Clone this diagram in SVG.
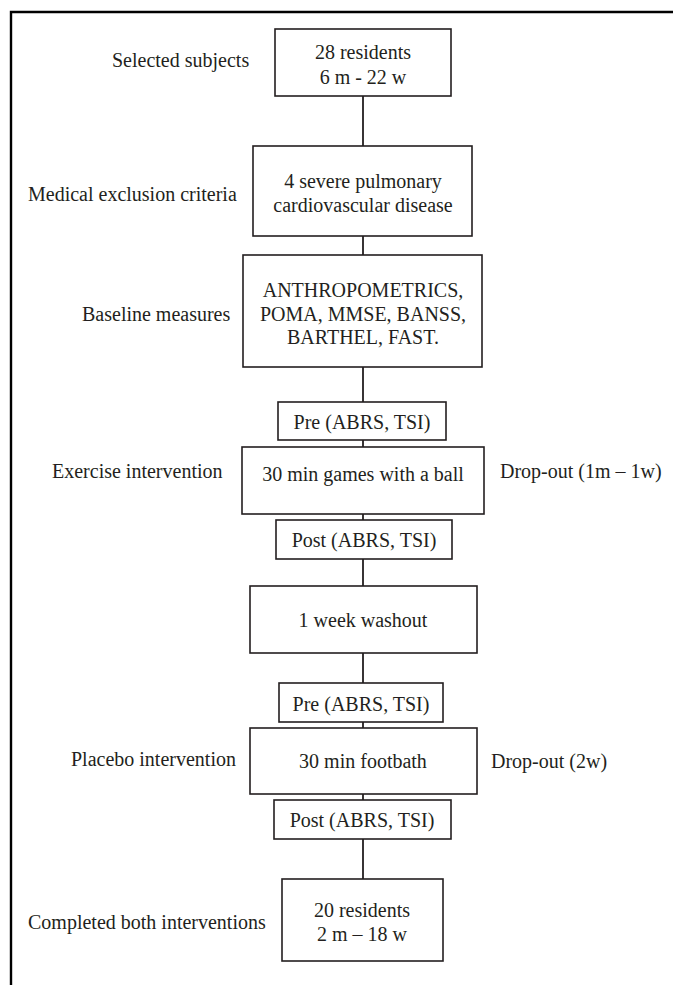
<svg xmlns="http://www.w3.org/2000/svg" width="673" height="985" viewBox="0 0 673 985">
<style>
text{font-family:"Liberation Serif","Times New Roman",serif;font-size:20px;fill:#231f20}
.c{text-anchor:middle}
.box{fill:#fff;stroke:#231f20;stroke-width:1.6}
.ln{stroke:#231f20;stroke-width:1.8;fill:none}
</style>
<rect width="673" height="985" fill="#fff"/>
<path d="M11 985 V12 H673" fill="none" stroke="#000" stroke-width="2.4"/>
<g id="connectors">
<line class="ln" x1="363" y1="96" x2="363" y2="146"/>
<line class="ln" x1="363" y1="236" x2="363" y2="255"/>
<line class="ln" x1="363" y1="367" x2="363" y2="402"/>
<line class="ln" x1="363" y1="440" x2="363" y2="447"/>
<line class="ln" x1="363" y1="514" x2="363" y2="520"/>
<line class="ln" x1="363" y1="559" x2="363" y2="586"/>
<line class="ln" x1="363" y1="653" x2="363" y2="683"/>
<line class="ln" x1="363" y1="722" x2="363" y2="728"/>
<line class="ln" x1="363" y1="794" x2="363" y2="800"/>
<line class="ln" x1="363" y1="839" x2="363" y2="879"/>
</g>
<g id="n1"><rect class="box" x="275" y="29" width="176" height="67"/><text class="c" x="363" y="59">28 residents</text><text class="c" x="363" y="84">6 m - 22 w</text></g>
<g id="n2"><rect class="box" x="253" y="146" width="219" height="90"/><text class="c" x="363" y="188">4 severe pulmonary</text><text class="c" x="363" y="212">cardiovascular disease</text></g>
<g id="n3"><rect class="box" x="243" y="255" width="239" height="112"/><text class="c" x="363" y="297">ANTHROPOMETRICS,</text><text class="c" x="363" y="320.5">POMA, MMSE, BANSS,</text><text class="c" x="363" y="344">BARTHEL, FAST.</text></g>
<g id="n4"><rect class="box" x="278" y="402" width="168" height="38"/><text class="c" x="362" y="429">Pre (ABRS, TSI)</text></g>
<g id="n5"><rect class="box" x="242" y="447" width="242" height="67"/><text class="c" x="363" y="481">30 min games with a ball</text></g>
<g id="n6"><rect class="box" x="276" y="520" width="176" height="39"/><text class="c" x="364" y="547">Post (ABRS, TSI)</text></g>
<g id="n7"><rect class="box" x="250" y="586" width="227" height="67"/><text class="c" x="363" y="627">1 week washout</text></g>
<g id="n8"><rect class="box" x="279" y="683" width="164" height="39"/><text class="c" x="361" y="711">Pre (ABRS, TSI)</text></g>
<g id="n9"><rect class="box" x="250" y="728" width="227" height="66"/><text class="c" x="363" y="768">30 min footbath</text></g>
<g id="n10"><rect class="box" x="274" y="800" width="177" height="39"/><text class="c" x="362" y="827">Post (ABRS, TSI)</text></g>
<g id="n11"><rect class="box" x="282" y="879" width="161" height="82"/><text class="c" x="362" y="917">20 residents</text><text class="c" x="362" y="941">2 m – 18 w</text></g>
<g id="labels">
<text x="112" y="67">Selected subjects</text>
<text x="28" y="201">Medical exclusion criteria</text>
<text x="82" y="321">Baseline measures</text>
<text x="52" y="478">Exercise intervention</text>
<text x="500" y="478">Drop-out (1m – 1w)</text>
<text x="71" y="766">Placebo intervention</text>
<text x="491" y="768">Drop-out (2w)</text>
<text x="28" y="929">Completed both interventions</text>
</g>
</svg>
